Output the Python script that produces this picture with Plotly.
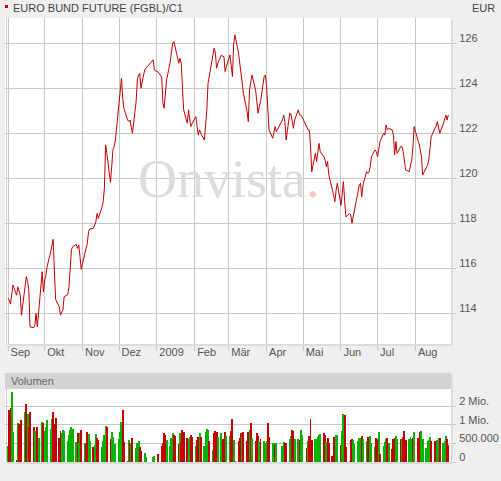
import numpy as np
import pandas as pd
import plotly.graph_objects as go

title_text = "EURO BUND FUTURE (FGBL)/C1"
currency = "EUR"
panel_title = "Volumen"

holidays = ["2008-12-24", "2008-12-25", "2008-12-26", "2008-12-31",
            "2009-01-01", "2009-04-10", "2009-04-13", "2009-05-01"]

close = [
    114.67, 114.59, 114.41, 114.96, 115.26,
    114.81, 115.18, 115.00, 114.81, 113.92,
    115.18, 115.63, 115.41, 115.07, 113.40,
    113.36, 113.48, 114.00, 113.40, 114.07,
    115.85, 114.96, 115.48, 115.66, 116.07,
    116.74, 116.96, 117.29, 115.92, 114.62,
    114.29, 113.92, 114.07, 114.15, 114.74,
    114.84, 115.21, 116.22, 116.84, 116.96,
    117.07, 116.89, 117.04, 116.52, 115.96,
    116.67, 116.89, 117.11, 117.63, 117.75,
    117.78, 117.92, 118.07, 118.44, 118.22,
    118.71, 118.96, 119.56, 121.48, 121.11,
    119.82, 120.52, 121.26, 121.41, 121.70,
    123.33, 124.07, 124.44, 123.56, 123.11,
    122.59, 122.52, 122.59, 122.32, 122.00,
    123.40, 124.37, 124.59, 124.67, 124.00,
    124.81, 124.89,
    125.26, 124.81, 124.72,
    124.50, 123.33, 123.11, 123.63, 124.37,
    125.18, 125.56, 126.00, 126.07, 125.85,
    125.11, 125.33, 125.11, 124.00, 123.04,
    122.44, 123.04, 122.59, 122.30, 122.44,
    122.74, 122.30, 121.92, 122.15, 122.00,
    121.70, 122.22, 123.04, 124.22, 124.52,
    125.41, 125.78, 125.56, 124.89, 125.11,
    125.48, 125.41, 125.41, 124.74, 124.96,
    125.48, 125.11, 124.52, 125.95, 126.37,
    125.56, 125.11, 124.74, 124.37, 123.78,
    122.96, 122.52, 123.92, 124.22, 124.59,
    123.92, 123.48, 122.89, 123.18, 123.40,
    124.52, 124.59, 124.07, 123.18, 122.15,
    121.78, 122.00, 122.30, 122.07,
    122.59, 122.81, 122.52, 121.70,
    122.89, 122.85, 122.59, 122.22, 122.59,
    123.04, 122.81, 122.81, 122.74,
    122.22, 122.15, 122.15, 121.48, 120.29,
    121.11, 120.74, 121.18, 121.55, 121.18,
    120.96, 120.81, 120.52, 120.74, 120.15,
    119.48, 119.18, 118.96, 119.48, 119.78,
    118.80, 119.48, 119.85, 119.00, 118.29,
    118.44, 118.37, 118.00, 118.29, 118.52,
    119.40, 119.70, 119.78, 119.18, 119.70,
    120.29, 120.22, 120.29, 120.52, 120.96,
    121.26, 121.18, 120.96, 121.33, 121.63,
    122.00, 121.92, 122.37, 122.15, 122.22,
    122.15, 121.92, 121.04, 121.63, 121.11,
    121.41, 121.41, 121.18, 120.81, 120.37,
    120.29, 120.52, 120.81, 121.40, 122.30,
    121.70, 121.55, 121.26, 120.96, 120.15,
    120.52, 120.59, 120.81, 121.41, 121.85,
    122.22, 122.30, 122.52, 122.15, 122.00,
    122.44, 122.67, 122.81, 122.59, 122.81,
]

# traded contracts, in thousands
volume_k = [
    435, 1780, 1930, 3560, 800,
    50, 1090, 1020, 1020, 1240,
    1690, 2200, 1560, 950, 1670,
    935, 845, 775, 935, 635,
    1180, 1090, 845, 950, 1240,
    880, 1290, 1670, 1020, 1380,
    645, 845, 775, 865, 845,
    555, 735, 865, 950, 890,
    545, 775, 525, 775, 865,
    500, 480, 800, 755, 575,
    410, 465, 755, 645, 590,
    410, 555, 735, 980, 935,
    620, 800, 680, 375, 480,
    620, 800, 1180, 1780, 545,
    25, 590, 525, 500, 645,
    375, 500, 575, 410, 300,
    245, 135,
    135, 165, 210,
    435, 500, 775, 735, 590,
    435, 645, 775, 725, 710,
    480, 775, 545, 865, 820,
    645, 620, 680, 735, 680,
    435, 590, 680, 775, 680,
    435, 820, 890, 865, 575,
    325, 775, 845, 820, 680,
    775, 620, 575, 800, 710,
    710, 845, 1290, 590, 25,
    575, 635, 775, 665, 800,
    555, 820, 865, 1090, 645,
    575, 775, 690, 545, 620,
    575, 525, 575, 1090, 680,
    525, 500, 465, 500,
    435, 545, 525, 525,
    620, 700, 865, 845, 620,
    620, 590, 865, 735,
    365, 555, 710, 1330, 590,
    620, 620, 680, 735, 755,
    775, 735, 545, 645, 525,
    165, 680, 590, 725, 725,
    465, 845, 1600, 1510, 410,
    25, 590, 620, 590, 480,
    575, 645, 645, 710, 620,
    575, 680, 620, 710, 500,
    410, 645, 620, 800, 225,
    435, 545, 620, 645, 500,
    345, 620, 645, 710, 620,
    620, 620, 680, 845, 590,
    620, 680, 620, 645, 820,
    645, 620, 820, 845, 620,
    375, 575, 600, 680, 575,
    555, 555, 600, 635, 645,
    525, 555, 710, 620, 465,
]

# g = up day (green bar), r = down day (red bar)
volume_dir = (
    "grrgg" "rgrrr" "grgrr" "rggrg" "grggg" "ggrrr" "rrggg" "ggggg"
    "grggr" "grrgg" "rggrr" "ggggr" "rgggg" "gggrr" "rgrgr" "gggrr"
    "gg" "ggr" "rrrrg" "gggrr" "rgrrr" "rggrr" "grrgr" "ggggr"
    "grrrg" "grrrg" "grrgg" "rrrgr" "rrgrg" "rrrgr" "gggrr" "ggrg"
    "ggrr" "ggrrg" "grgg" "rgrrr" "ggggg" "rrgrr" "rrrgg" "rggrr"
    "grrgg" "gggrg" "grrgg" "grrgr" "gggrg" "rrrgg" "rgrrr" "gggrg"
    "rrrgg" "ggggr" "rrggr" "gggrr"
)

month_starts = ["2008-09-01", "2008-10-01", "2008-11-01", "2008-12-01",
                "2009-01-01", "2009-02-01", "2009-03-01", "2009-04-01",
                "2009-05-01", "2009-06-01", "2009-07-01", "2009-08-01"]
month_labels = ["Sep", "Okt", "Nov", "Dez", "2009", "Feb", "Mär", "Apr",
                "Mai", "Jun", "Jul", "Aug"]
price_ticks = [114, 116, 118, 120, 122, 124, 126]
volume_ticks = [0, 500000, 1000000, 2000000]
volume_tick_labels = ["0", "500.000", "1 Mio.", "2 Mio."]

# ---------------------------------------------------------------------------
dates = pd.bdate_range("2008-09-01", "2009-08-28")
dates = dates[~dates.isin(pd.to_datetime(holidays))]
assert len(dates) == len(close) == len(volume_k) == len(volume_dir)

volume = np.array(volume_k) * 1000.0
# the volume panel uses a stepped scale: 0 / 500.000 / 1 Mio. / 2 Mio. equally spaced
vol_breaks = [0, 500000, 1000000, 2000000, 4000000]
vol_levels = [0, 1, 2, 3, 4]


def vscale(v):
    return np.interp(v, vol_breaks, vol_levels)


W, H = 501, 481
FONT = "Liberation Sans, Arial, sans-serif"
GRID = "#c8c8c8"
RED = "#c40000"
GREEN = "#00b400"


def px_x(x):
    return x / W


def px_y(y):
    return 1 - y / H


plot_l, plot_r = 5, 451
main_t, main_b = 18, 344
vol_t, vol_b = 389, 462

fig = go.Figure()
fig.add_trace(go.Scatter(
    x=dates, y=close, mode="lines",
    line=dict(color=RED, width=1), xaxis="x", yaxis="y",
    showlegend=False, hoverinfo="x+y"))
fig.add_trace(go.Bar(
    x=dates, y=vscale(volume),
    marker=dict(color=[GREEN if c == "g" else RED for c in volume_dir], line=dict(width=0)),
    width=0.8 * 86400000, xaxis="x2", yaxis="y2", showlegend=False,
    customdata=volume, hovertemplate="%{x}<br>%{customdata:,.0f}<extra></extra>"))

x_range = ["2008-08-29 12:00", "2009-08-30 05:00"]
tick_font = dict(family=FONT, size=11, color="#555555")

fig.update_layout(
    width=W, height=H,
    margin=dict(l=0, r=0, t=0, b=0, autoexpand=False),
    paper_bgcolor="#efefef", plot_bgcolor="#ffffff",
    bargap=0,
    xaxis=dict(domain=[px_x(plot_l), px_x(plot_r)], type="date", range=x_range,
               tickmode="array", tickvals=month_starts, ticktext=month_labels,
               ticks="outside", ticklen=6, tickcolor=GRID, tickwidth=1,
               showgrid=True, gridcolor=GRID, gridwidth=1, zeroline=False,
               showline=False, ticklabelposition="outside right",
               ticklabelstandoff=-2, ticklabelshift=2,
               tickfont=tick_font, anchor="y", fixedrange=True,
               automargin=False),
    yaxis=dict(domain=[px_y(main_b), px_y(main_t)], side="right",
               range=[112.64, 127.12], tickmode="array", tickvals=price_ticks,
               ticks="outside", ticklen=4, tickcolor=GRID, showgrid=True,
               gridcolor=GRID, gridwidth=1, zeroline=False, showline=False,
               ticklabelshift=-5, ticklabelstandoff=1,
               tickfont=tick_font, anchor="x", fixedrange=True, automargin=False),
    xaxis2=dict(domain=[px_x(plot_l), px_x(plot_r)], type="date", range=x_range,
                showticklabels=False, ticks="", showgrid=False, zeroline=False,
                showline=False, anchor="y2", fixedrange=True, automargin=False),
    yaxis2=dict(domain=[px_y(vol_b), px_y(vol_t)], side="right",
                range=[0, 3.93], tickmode="array",
                tickvals=list(vscale(np.array(volume_ticks))), ticktext=volume_tick_labels,
                ticks="outside", ticklen=4, tickcolor=GRID, showgrid=True,
                gridcolor=GRID, gridwidth=1, zeroline=False, showline=False,
                ticklabelshift=-5, ticklabelstandoff=1,
                tickfont=tick_font, anchor="x2", fixedrange=True, automargin=False),
)

shapes = [
    # plot shadows
    dict(type="rect", xref="paper", yref="paper", x0=px_x(plot_r), x1=px_x(plot_r + 2),
         y0=px_y(main_b + 2), y1=px_y(main_t + 2), fillcolor="#dcdcdc", line=dict(width=0)),
    dict(type="rect", xref="paper", yref="paper", x0=px_x(plot_l + 2), x1=px_x(plot_r + 2),
         y0=px_y(main_b + 2), y1=px_y(main_b), fillcolor="#dcdcdc", line=dict(width=0)),
    dict(type="rect", xref="paper", yref="paper", x0=px_x(plot_r), x1=px_x(plot_r + 2),
         y0=px_y(vol_b + 2), y1=px_y(vol_t - 14), fillcolor="#dcdcdc", line=dict(width=0)),
    dict(type="rect", xref="paper", yref="paper", x0=px_x(plot_l + 2), x1=px_x(plot_r + 2),
         y0=px_y(vol_b + 2), y1=px_y(vol_b), fillcolor="#dcdcdc", line=dict(width=0)),
    # volume header
    dict(type="rect", xref="paper", yref="paper", x0=px_x(plot_l), x1=px_x(plot_r),
         y0=px_y(vol_t), y1=px_y(vol_t - 16), fillcolor="#d3d3d3", line=dict(width=0)),
    # left borders
    dict(type="line", xref="paper", yref="paper", x0=px_x(6.5), x1=px_x(6.5),
         y0=px_y(main_b), y1=px_y(main_t), line=dict(color=GRID, width=1)),
    dict(type="line", xref="paper", yref="paper", x0=px_x(6.5), x1=px_x(6.5),
         y0=px_y(vol_b), y1=px_y(vol_t), line=dict(color=GRID, width=1)),
    # red marker before title
    dict(type="rect", xref="paper", yref="paper", x0=px_x(5), x1=px_x(8),
         y0=px_y(8), y1=px_y(5), fillcolor=RED, line=dict(width=0)),
]
fig.update_layout(shapes=shapes)

annotations = [
    dict(text=title_text, xref="paper", yref="paper", x=px_x(11), y=px_y(0),
         xanchor="left", yanchor="top", showarrow=False,
         font=dict(family=FONT, size=11, color="#444444")),
    dict(text=currency, xref="paper", yref="paper", x=px_x(497), y=px_y(0),
         xanchor="right", yanchor="top", showarrow=False,
         font=dict(family=FONT, size=11, color="#444444")),
    dict(text=panel_title, xref="paper", yref="paper", x=px_x(9), y=px_y(vol_t - 8),
         xanchor="left", yanchor="middle", showarrow=False,
         font=dict(family=FONT, size=11, color="#666666")),
    dict(text="Onvista<span style='color:#f6caca'>.</span>", xref="paper", yref="paper",
         x=px_x(229), y=px_y(211), xanchor="center", yanchor="bottom", showarrow=False,
         font=dict(family="Liberation Serif, Times New Roman, serif", size=54, color="#dcdcdc")),
]
fig.update_layout(annotations=annotations)

fig.write_html("out.html",
               config={"displayModeBar": False},
               post_script="document.body.style.margin='0';document.body.style.overflow='hidden';")
